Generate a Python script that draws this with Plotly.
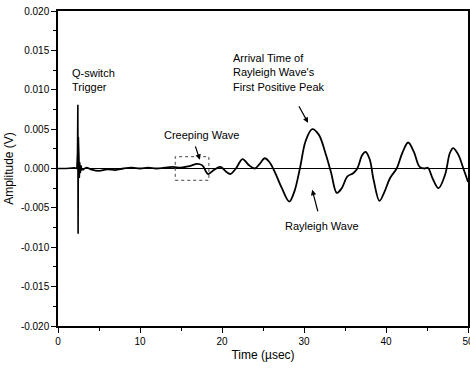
import plotly.graph_objects as go

# Q-switch trigger segment (time in µs, amplitude in V)
trigger_t = [0.0, 1.0, 2.0, 2.3, 2.38, 2.42, 2.45, 2.48, 2.51, 2.55, 2.6, 2.65, 2.72, 2.8, 2.9, 3.0]
trigger_v = [0.0, 0.0, 0.0001, 0.0, 0.002, 0.0081, -0.0083, 0.004, -0.004, 0.0015, -0.0012,
             0.0008, -0.0006, 0.0004, -0.0002, -0.0002]

# Creeping + Rayleigh wave segment
wave_t = [3.0, 3.5, 4.0, 5.0, 6.0, 7.0, 8.0, 9.0, 10.0, 11.0, 12.0, 13.0, 14.0, 15.0, 16.0,
          17.0, 17.6, 18.3, 19.0, 19.8, 20.5, 21.0, 21.7, 22.5, 23.3, 24.0, 24.6, 25.2, 25.8,
          26.5, 27.3, 28.2, 28.8, 29.5, 30.2, 31.0, 31.8, 32.6, 33.3, 34.0, 34.6, 35.3, 36.0,
          36.5, 37.1, 37.5, 38.0, 38.5, 39.2, 39.8, 40.5, 41.3, 42.0, 42.7, 43.4, 44.1, 44.7,
          45.1, 45.7, 46.4, 47.2, 47.8, 48.2, 48.8, 49.5, 50.0]
wave_v = [-0.0002, 0.0001, -0.0001, -0.0003, -0.0001, -0.0002, 0.0, 0.0001, 0.0, 0.0001, 0.0,
          0.0001, 0.0002, 0.0001, 0.0003, 0.0006, 0.0004, -0.0007, -0.0002, 0.0002, -0.0004,
          -0.0007, 0.0, 0.0012, 0.0004, 0.0, 0.0006, 0.0013, 0.0008, -0.0006, -0.0025, -0.0042,
          -0.0030, 0.0, 0.0035, 0.0050, 0.0043, 0.0020, -0.0005, -0.0031, -0.0025, -0.0010,
          -0.0006, 0.0, 0.0017, 0.0021, 0.0012, -0.0015, -0.0041, -0.0030, -0.0012, 0.0, 0.0020,
          0.0033, 0.0021, 0.0002, 0.0, 0.0001, -0.0013, -0.0025, -0.0008, 0.0020, 0.0026, 0.0018,
          -0.0002, -0.0017]

x_tick_vals = [0, 10, 20, 30, 40, 50]
x_tick_text = ["0", "10", "20", "30", "40", "50"]
y_tick_vals = [0.020, 0.015, 0.010, 0.005, 0.0, -0.005, -0.010, -0.015, -0.020]
y_tick_text = ["0.020", "0.015", "0.010", "0.005", "0.000", "-0.005", "-0.010", "-0.015", "-0.020"]

FONT = "Liberation Sans, Arial, sans-serif"

fig = go.Figure()
fig.add_trace(go.Scatter(x=trigger_t, y=trigger_v, mode="lines",
                         line=dict(color="black", width=1.6), showlegend=False))
fig.add_trace(go.Scatter(x=wave_t, y=wave_v, mode="lines",
                         line=dict(color="black", width=1.8, shape="spline", smoothing=1.0),
                         showlegend=False))

# dotted box around the creeping wave
fig.add_shape(type="rect", x0=14.3, x1=18.4, y0=-0.0015, y1=0.0015,
              line=dict(color="#444", width=1, dash="dot"))

txt = dict(font=dict(family=FONT, size=11, color="black"), showarrow=False)
fig.add_annotation(x=1.5, y=0.0113, text="Q-switch<br>Trigger", xanchor="left", align="left", **txt)
fig.add_annotation(x=17.5, y=0.0043, text="Creeping Wave", xanchor="center", **txt)
fig.add_annotation(x=21.1, y=0.0122, text="Arrival Time of<br>Rayleigh Wave's<br>First Positive Peak",
                   xanchor="left", align="left", **txt)
fig.add_annotation(x=32.2, y=-0.0073, text="Rayleigh Wave", xanchor="center", **txt)

arr = dict(showarrow=True, arrowhead=2, arrowsize=0.9, arrowwidth=1.2, arrowcolor="black", text="")
fig.add_annotation(x=17.3, y=0.0011, ax=-5, ay=-15, **arr)
fig.add_annotation(x=30.5, y=0.0058, ax=-10, ay=-18, **arr)
fig.add_annotation(x=31.0, y=-0.0027, ax=6, ay=23, **arr)

axis_common = dict(showline=True, linecolor="black", linewidth=1.5, mirror=True,
                   ticks="outside", ticklen=5, tickwidth=1.2, tickcolor="black",
                   showgrid=False, ticklabeloverflow="allow", automargin=False,
                   tickfont=dict(family=FONT, size=10, color="black"))

fig.update_xaxes(range=[0, 50], tickvals=x_tick_vals, ticktext=x_tick_text,
                 minor=dict(dtick=5, ticks="outside", ticklen=3, tickcolor="black"),
                 title=dict(text="Time (µsec)", font=dict(family=FONT, size=12, color="black"), standoff=5),
                 zeroline=False, **axis_common)
fig.update_yaxes(range=[-0.020, 0.020], tickvals=y_tick_vals, ticktext=y_tick_text,
                 minor=dict(dtick=0.0025, ticks="outside", ticklen=3, tickcolor="black"),
                 title=dict(text="Amplitude (V)", font=dict(family=FONT, size=12, color="black"), standoff=5),
                 zeroline=True, zerolinecolor="black", zerolinewidth=1, **axis_common)

fig.update_layout(width=470, height=370, margin=dict(l=58, r=2, t=11, b=44),
                  plot_bgcolor="white", paper_bgcolor="white",
                  font=dict(family=FONT, color="black"))

# remove the page's default body margin so the figure fills the window exactly
fig.write_html("out.html", config={"displayModeBar": False},
               post_script="document.body.style.margin='0';document.body.style.overflow='hidden';")
